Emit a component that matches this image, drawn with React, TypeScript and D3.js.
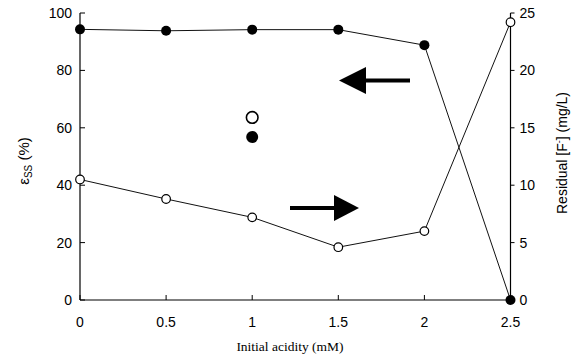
import React from "react";
import * as d3 from "d3";

const acidity = [0, 0.5, 1, 1.5, 2, 2.5];
const efficiency = [94.3, 93.8, 94.2, 94.2, 88.8, 0];
const residualF = [10.5, 8.8, 7.2, 4.6, 6.0, 24.2];
const extraAcidity = 1;
const extraEfficiency = 56.8;
const extraResidual = 15.9;
const xTicks = [0, 0.5, 1, 1.5, 2, 2.5];
const leftTicks = [0, 20, 40, 60, 80, 100];
const rightTicks = [0, 5, 10, 15, 20, 25];

const W = 576, H = 363;
const L = 80, R = 510.5, T = 13, B = 300;
const font = "'Liberation Sans', Arial, sans-serif";

export default function App() {
  const x = d3.scaleLinear().domain([0, 2.5]).range([L, R]);
  const yL = d3.scaleLinear().domain([0, 100]).range([B, T]);
  const yR = d3.scaleLinear().domain([0, 25]).range([B, T]);
  const lineL = d3.line<number>().x((_, i) => x(acidity[i])).y((d) => yL(d));
  const lineR = d3.line<number>().x((_, i) => x(acidity[i])).y((d) => yR(d));

  return (
    <svg width={W} height={H} style={{ position: "absolute", left: 0, top: 0, background: "#fff" }}>
      <rect x={0} y={0} width={W} height={H} fill="#fff" />
      {/* axes */}
      <line x1={L} y1={T} x2={L} y2={B} stroke="#000" strokeWidth={1.2} />
      <line x1={L} y1={B} x2={R} y2={B} stroke="#000" strokeWidth={1.2} />
      <line x1={R} y1={T} x2={R} y2={B} stroke="#000" strokeWidth={1.2} />
      {leftTicks.map((t) => (
        <g key={"l" + t}>
          <line x1={L} x2={L + 5} y1={yL(t)} y2={yL(t)} stroke="#000" strokeWidth={1} />
          <text x={L - 8} y={yL(t)} dy="0.35em" textAnchor="end" fontFamily={font} fontSize={14}>{t}</text>
        </g>
      ))}
      {rightTicks.map((t) => (
        <g key={"r" + t}>
          <line x1={R} x2={R + 4} y1={yR(t)} y2={yR(t)} stroke="#000" strokeWidth={1} />
          <text x={R + 9} y={yR(t)} dy="0.35em" textAnchor="start" fontFamily={font} fontSize={14}>{t}</text>
        </g>
      ))}
      {xTicks.map((t) => (
        <g key={"x" + t}>
          <line x1={x(t)} x2={x(t)} y1={B} y2={B - 5} stroke="#000" strokeWidth={1} />
          <text x={x(t)} y={322} dy="0.35em" textAnchor="middle" fontFamily={font} fontSize={14}>{t}</text>
        </g>
      ))}
      {/* axis labels */}
      <text x={290} y={351} textAnchor="middle" fontFamily="'Liberation Serif', 'Times New Roman', serif" fontSize={13.5}>Initial acidity (mM)</text>
      <text transform="translate(29,161) rotate(-90)" textAnchor="middle" fontFamily={font} fontSize={15}>
        ε<tspan fontSize={10} dy={3}>SS</tspan><tspan dy={-3}> (%)</tspan>
      </text>
      <text transform="translate(567,153) rotate(-90)" textAnchor="middle" fontFamily={font} fontSize={14}>
        Residual [F<tspan fontSize={9} dy={-5}>-</tspan><tspan dy={5}>] (mg/L)</tspan>
      </text>
      {/* lines */}
      <path d={lineL(efficiency) || ""} fill="none" stroke="#111" strokeWidth={1} />
      <path d={lineR(residualF) || ""} fill="none" stroke="#111" strokeWidth={1} />
      {efficiency.map((v, i) => (
        <circle key={"f" + i} cx={x(acidity[i])} cy={yL(v)} r={5} fill="#000" />
      ))}
      {residualF.map((v, i) => (
        <circle key={"o" + i} cx={x(acidity[i])} cy={yR(v)} r={4.3} fill="#fff" stroke="#000" strokeWidth={1.2} />
      ))}
      <circle cx={x(extraAcidity)} cy={yR(extraResidual)} r={5.8} fill="#fff" stroke="#000" strokeWidth={1.6} />
      <circle cx={x(extraAcidity)} cy={yL(extraEfficiency)} r={6} fill="#000" />
      {/* arrows */}
      <line x1={364} x2={410} y1={80.5} y2={80.5} stroke="#000" strokeWidth={4} />
      <path d="M339,80.5 L366,67 L366,94 Z" fill="#000" />
      <line x1={290} x2={336} y1={208} y2={208} stroke="#000" strokeWidth={4} />
      <path d="M359,208 L334,195 L334,221 Z" fill="#000" />
    </svg>
  );
}
